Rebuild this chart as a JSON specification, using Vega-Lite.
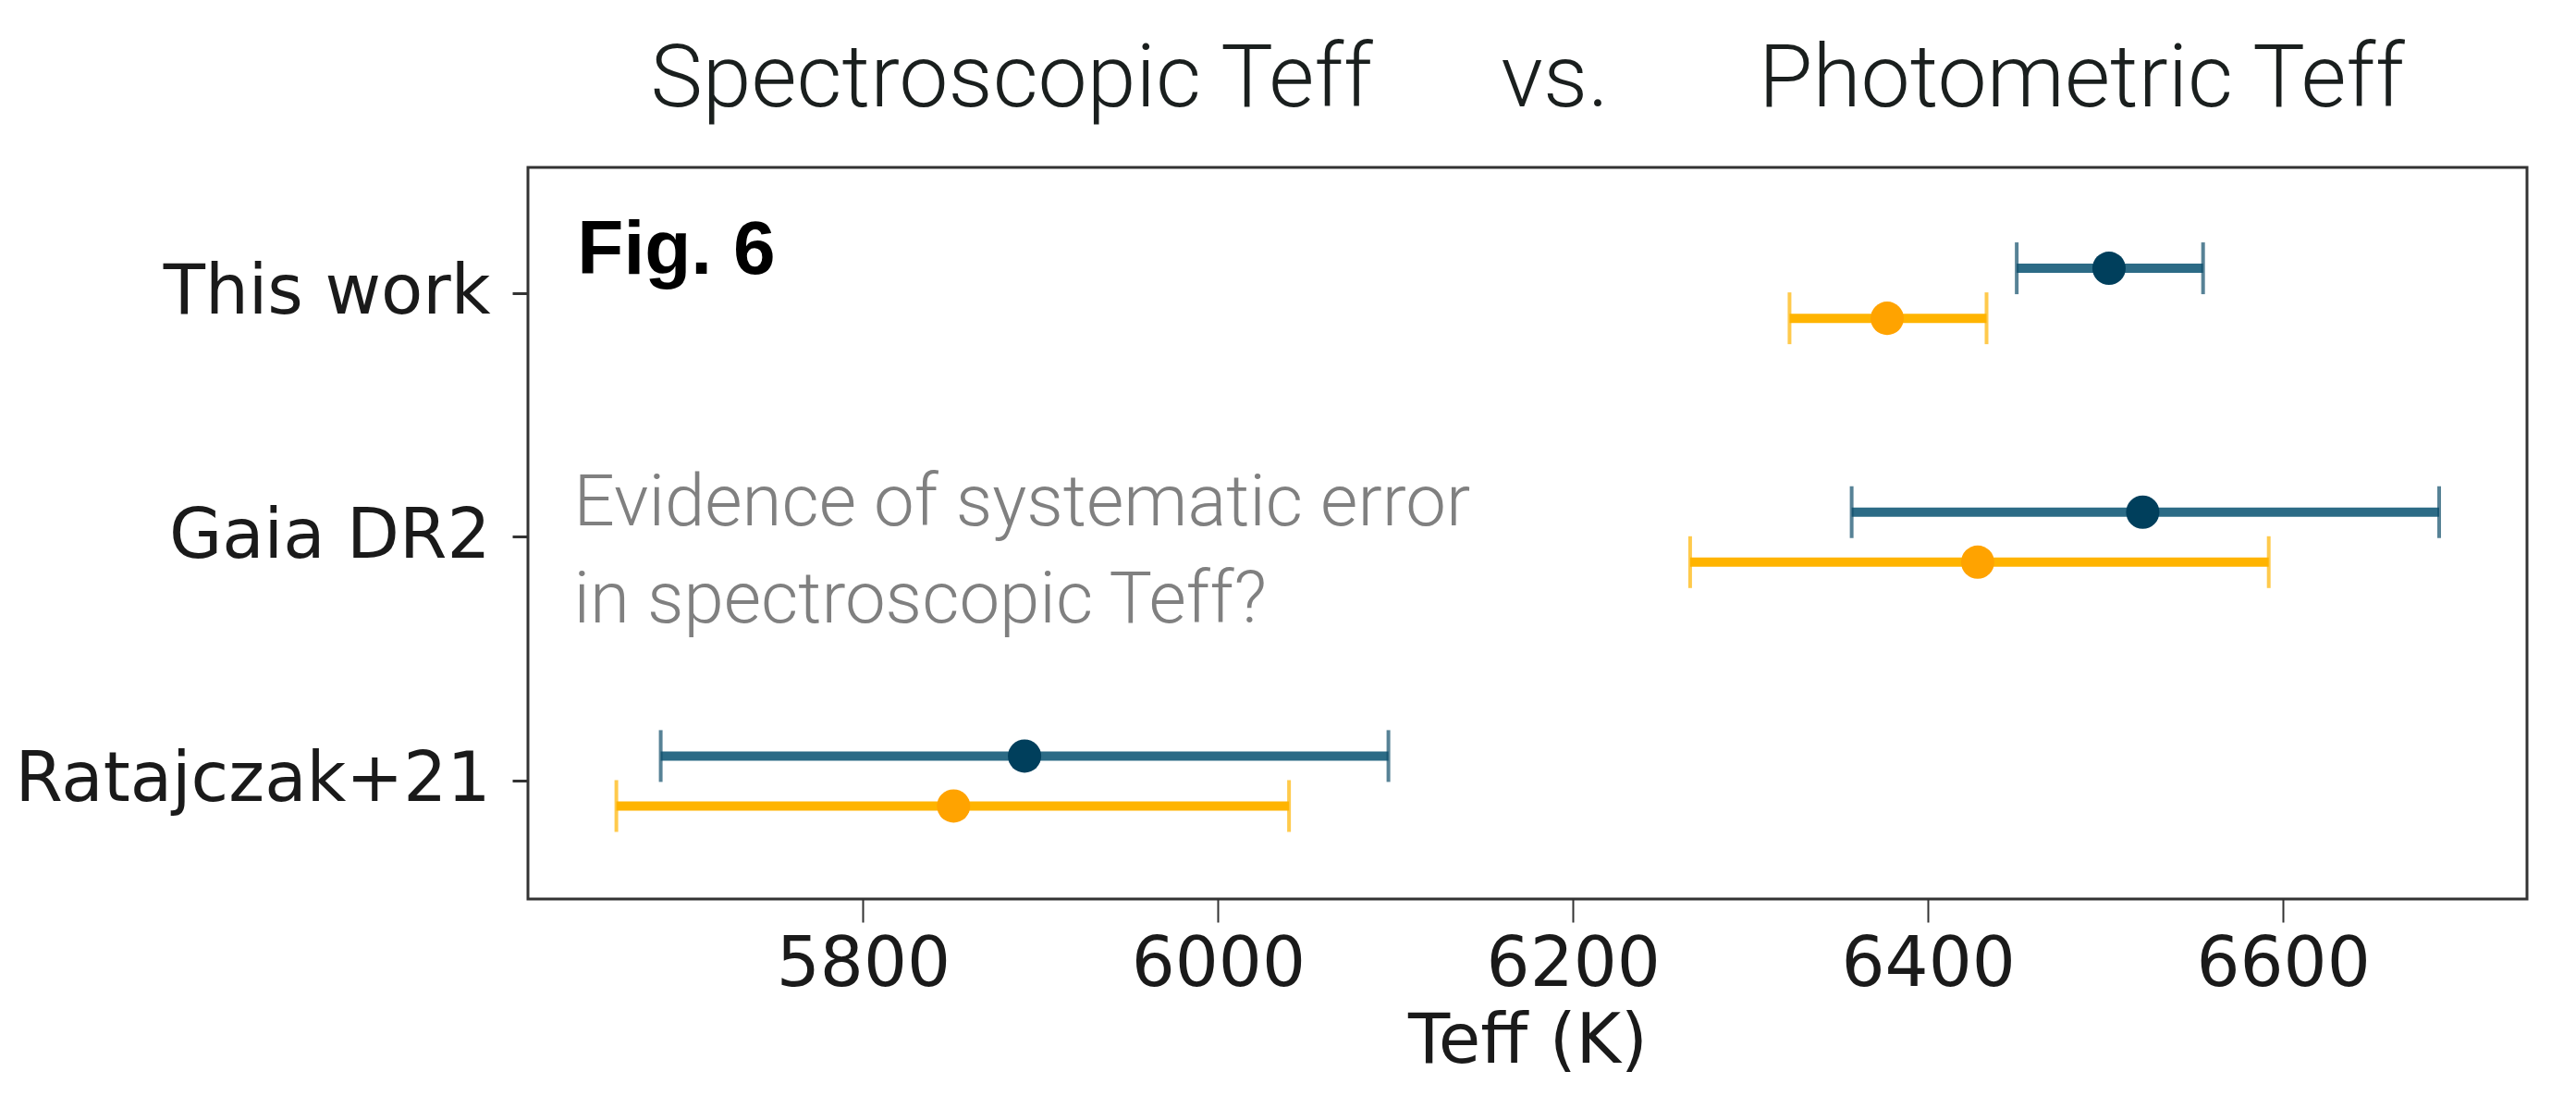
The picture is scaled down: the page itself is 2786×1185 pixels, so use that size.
{
  "$schema": "https://vega.github.io/schema/vega-lite/v6.json",
  "width": 2162,
  "height": 791,
  "autosize": {"type": "none"},
  "padding": {"left": 571, "top": 181, "right": 53, "bottom": 213},
  "background": "white",
  "title": {
    "text": "Spectroscopic Teff\u00a0\u00a0\u00a0\u00a0\u00a0\u00a0vs.\u00a0\u00a0\u00a0\u00a0\u00a0\u00a0\u00a0Photometric Teff",
    "font": "Roboto",
    "fontWeight": 300,
    "fontSize": 95,
    "color": "#1a1f1e",
    "anchor": "middle",
    "baseline": "alphabetic",
    "offset": -29,
    "limit": 0
  },
  "data": {
    "values": [
      {"source": "This work", "method": "Spectroscopic", "teff": 6502, "lo": 6450, "hi": 6555},
      {"source": "This work", "method": "Photometric", "teff": 6377, "lo": 6322, "hi": 6433},
      {"source": "Gaia DR2", "method": "Spectroscopic", "teff": 6521, "lo": 6357, "hi": 6688},
      {"source": "Gaia DR2", "method": "Photometric", "teff": 6428, "lo": 6266, "hi": 6592},
      {"source": "Ratajczak+21", "method": "Spectroscopic", "teff": 5891, "lo": 5686, "hi": 6096},
      {"source": "Ratajczak+21", "method": "Photometric", "teff": 5851, "lo": 5661, "hi": 6040}
    ]
  },
  "layer": [
    {
      "mark": {"type": "rule", "strokeWidth": 10},
      "encoding": {
        "y": {"field": "source", "type": "nominal", "sort": ["This work", "Gaia DR2", "Ratajczak+21"], "scale": {"paddingInner": 0.18, "paddingOuter": 0.09, "align": 0.59},
          "axis": {"title": null, "labelFont": "DejaVu Sans", "labelFontSize": 74, "labelColor": "#1a1a1a", "labelLimit": 0, "tickSize": 17, "tickWidth": 3, "tickColor": "#333", "labelPadding": 24, "domain": false, "grid": false}},
        "yOffset": {"field": "method", "type": "nominal", "sort": ["Spectroscopic", "Photometric"], "scale": {"paddingInner": 0, "paddingOuter": 1}},
        "x": {"field": "lo", "type": "quantitative", "scale": {"domain": [5611.2, 6737.5], "nice": false, "zero": false},
          "axis": {"title": "Teff (K)", "values": [5800, 6000, 6200, 6400, 6600], "format": "d", "labelFont": "DejaVu Sans", "labelFontSize": 74, "labelColor": "#1a1a1a", "labelLimit": 0, "tickSize": 25, "tickWidth": 2, "tickColor": "#333", "labelPadding": 10, "titleFont": "DejaVu Sans", "titleFontSize": 74, "titleFontWeight": "normal", "titleColor": "#1a1a1a", "titlePadding": 10, "titleLimit": 0, "domain": false, "grid": false, "labelFlush": false}},
        "x2": {"field": "hi"},
        "color": {"field": "method", "type": "nominal", "scale": {"domain": ["Spectroscopic", "Photometric"], "range": ["#2c6b86", "#ffb400"]}, "legend": null}
      }
    },
    {
      "mark": {"type": "tick", "orient": "vertical", "size": 56, "thickness": 4},
      "encoding": {
        "y": {"field": "source", "type": "nominal", "sort": ["This work", "Gaia DR2", "Ratajczak+21"]},
        "yOffset": {"field": "method", "type": "nominal", "sort": ["Spectroscopic", "Photometric"]},
        "x": {"field": "lo", "type": "quantitative"},
        "color": {"field": "method", "type": "nominal", "scale": {"domain": ["Spectroscopic", "Photometric"], "range": ["#0f4d6a", "#ffb400"]}, "legend": null}
      }
    },
    {
      "mark": {"type": "tick", "orient": "vertical", "size": 56, "thickness": 4},
      "encoding": {
        "y": {"field": "source", "type": "nominal", "sort": ["This work", "Gaia DR2", "Ratajczak+21"]},
        "yOffset": {"field": "method", "type": "nominal", "sort": ["Spectroscopic", "Photometric"]},
        "x": {"field": "hi", "type": "quantitative"},
        "color": {"field": "method", "type": "nominal", "scale": {"domain": ["Spectroscopic", "Photometric"], "range": ["#0f4d6a", "#ffb400"]}, "legend": null}
      }
    },
    {
      "mark": {"type": "circle", "size": 1300, "opacity": 1},
      "encoding": {
        "y": {"field": "source", "type": "nominal", "sort": ["This work", "Gaia DR2", "Ratajczak+21"]},
        "yOffset": {"field": "method", "type": "nominal", "sort": ["Spectroscopic", "Photometric"]},
        "x": {"field": "teff", "type": "quantitative"},
        "color": {"field": "method", "type": "nominal", "scale": {"domain": ["Spectroscopic", "Photometric"], "range": ["#003f5c", "#ffa300"]}, "legend": null}
      }
    },
    {
      "data": {"values": [{"note": "Fig. 6"}]},
      "mark": {"type": "text", "font": "Liberation Sans", "fontWeight": "bold", "fontSize": 82, "color": "#000000", "align": "left", "baseline": "alphabetic", "dy": -21},
      "encoding": {
        "x": {"datum": 5639, "type": "quantitative"},
        "y": {"datum": "This work", "type": "nominal"},
        "text": {"field": "note", "type": "nominal"}
      }
    },
    {
      "data": {"values": [{"note": "Evidence of systematic error\nin spectroscopic Teff?"}]},
      "mark": {"type": "text", "font": "Roboto", "fontWeight": 300, "fontSize": 78, "color": "#808080", "align": "left", "baseline": "alphabetic", "lineBreak": "\n", "lineHeight": 105, "dy": -13},
      "encoding": {
        "x": {"datum": 5637, "type": "quantitative"},
        "y": {"datum": "Gaia DR2", "type": "nominal"},
        "text": {"field": "note", "type": "nominal"}
      }
    }
  ],
  "resolve": {"scale": {"color": "independent"}},
  "config": {
    "font": "DejaVu Sans",
    "view": {"stroke": "#333333", "strokeWidth": 3}
  }
}
